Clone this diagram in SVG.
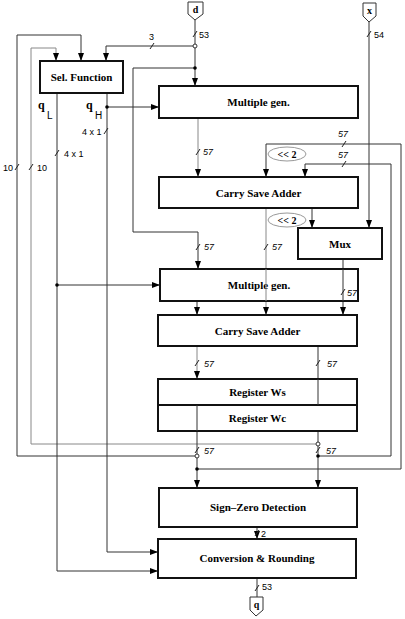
<svg xmlns="http://www.w3.org/2000/svg" width="405" height="619" viewBox="0 0 405 619">
<style>
.box{fill:#fff;stroke:#111;stroke-width:2}
.bt{font-family:"Liberation Serif",serif;font-weight:bold;font-size:11px;text-anchor:middle;fill:#000}
.c{fill:none;stroke:#333;stroke-width:1}
.g{fill:none;stroke:#888;stroke-width:1}
.tk{stroke:#222;stroke-width:1}
.lb{font-family:"Liberation Sans",sans-serif;font-size:9px;fill:#000}
.li{font-family:"Liberation Sans",sans-serif;font-size:9px;font-style:italic;fill:#000}
.q{font-family:"Liberation Serif",serif;font-weight:bold;font-size:12px;fill:#000}
.sub{font-family:"Liberation Sans",sans-serif;font-size:10px;fill:#000}
.pin{fill:#fff;stroke:#333;stroke-width:1}
.pt{font-family:"Liberation Serif",serif;font-weight:bold;font-size:10px;text-anchor:middle;fill:#000}
.el{fill:#fff;stroke:#999;stroke-width:1}
.et{font-family:"Liberation Serif",serif;font-weight:bold;font-size:10px;text-anchor:middle;fill:#000}
</style>
<defs>
<marker id="a" markerUnits="userSpaceOnUse" markerWidth="8" markerHeight="6" refX="8" refY="3" orient="auto">
<path d="M0,0 L8,3 L0,6 z" fill="#000"/>
</marker>
</defs>
<g id="connectors">
<polyline class="c" points="195,20 195,86" marker-end="url(#a)"/>
<polyline class="c" points="195,46 106,46 106,61" marker-end="url(#a)"/>
<polyline class="c" points="195,68 133,68 133,232 198,232 198,269" marker-end="url(#a)"/>
<polyline class="c" points="197,456 17,456 17,35 81,35 81,61" marker-end="url(#a)"/>
<polyline class="g" points="318,444 31,444 31,48 56,48 56,61" marker-end="url(#a)"/>
<polyline class="c" points="107,93 107,552 158,552" marker-end="url(#a)"/>
<polyline class="c" points="107,107 159,107" marker-end="url(#a)"/>
<polyline class="c" points="57,93 57,571 158,571" marker-end="url(#a)"/>
<polyline class="c" points="57,285 160,285" marker-end="url(#a)"/>
<polyline class="g" points="198,118 198,177" marker-end="url(#a)"/>
<polyline class="c" points="197,469 401,469 401,144 266,144 266,177" marker-end="url(#a)"/>
<polyline class="c" points="318,456 391,456 391,164 305,164 305,177" marker-end="url(#a)"/>
<polyline class="g" points="266,208 266,315" marker-end="url(#a)"/>
<polyline class="c" points="312,208 312,228" marker-end="url(#a)"/>
<polyline class="c" points="369,22 369,228" marker-end="url(#a)"/>
<polyline class="c" points="343,259 343,315" marker-end="url(#a)"/>
<polyline class="c" points="197,301 197,315" marker-end="url(#a)"/>
<polyline class="g" points="197,346 197,379" marker-end="url(#a)"/>
<polyline class="c" points="318,346 318,405" marker-end="url(#a)"/>
<polyline class="c" points="197,405 197,488" marker-end="url(#a)"/>
<polyline class="c" points="318,431 318,488" marker-end="url(#a)"/>
<polyline class="c" points="257,527 257,539" marker-end="url(#a)"/>
<polyline class="c" points="257,578 257,597"/>
<circle cx="195" cy="46" r="2" fill="#fff" stroke="#333"/>
<circle cx="195" cy="68" r="1.8" fill="#000"/>
<circle cx="107" cy="107" r="1.8" fill="#000"/>
<circle cx="57" cy="285" r="1.8" fill="#000"/>
<circle cx="197" cy="456" r="2" fill="#fff" stroke="#333"/>
<circle cx="318" cy="444" r="2" fill="#fff" stroke="#333"/>
<circle cx="318" cy="456" r="1.8" fill="#000"/>
<circle cx="197" cy="469" r="1.8" fill="#000"/>
<g class="tk">
<line x1="193" y1="37" x2="197" y2="31"/>
<line x1="150" y1="49" x2="154" y2="43"/>
<line x1="15" y1="170" x2="19" y2="164"/>
<line x1="29" y1="170" x2="33" y2="164"/>
<line x1="104" y1="134" x2="108" y2="128"/>
<line x1="55" y1="156" x2="59" y2="150"/>
<line x1="196" y1="155" x2="200" y2="149"/>
<line x1="196" y1="250" x2="200" y2="244"/>
<line x1="264" y1="250" x2="268" y2="244"/>
<line x1="342" y1="147" x2="346" y2="141"/>
<line x1="342" y1="167" x2="346" y2="161"/>
<line x1="367" y1="37" x2="371" y2="31"/>
<line x1="195" y1="366" x2="199" y2="360"/>
<line x1="316" y1="366" x2="320" y2="360"/>
<line x1="195" y1="453" x2="199" y2="447"/>
<line x1="316" y1="453" x2="320" y2="447"/>
<line x1="255" y1="536" x2="259" y2="530"/>
<line x1="255" y1="591" x2="259" y2="585"/>
</g>
<text class="lb" x="199" y="38">53</text>
<text class="lb" x="149" y="40">3</text>
<text class="lb" x="374" y="38">54</text>
<text class="lb" x="3" y="171">10</text>
<text class="lb" x="37" y="171">10</text>
<text class="lb" x="82" y="135">4 x 1</text>
<text class="lb" x="64" y="157">4 x 1</text>
<text class="li" x="203" y="155">57</text>
<text class="li" x="338" y="137">57</text>
<text class="li" x="338" y="158">57</text>
<text class="li" x="204" y="250">57</text>
<text class="li" x="272" y="250">57</text>
<text class="li" x="204" y="367">57</text>
<text class="li" x="327" y="367">57</text>
<text class="li" x="204" y="454">57</text>
<text class="li" x="326" y="454">57</text>
<text class="lb" x="261" y="537">2</text>
<text class="lb" x="262" y="590">53</text>
<text class="q" x="38" y="109">q</text>
<text class="sub" x="47" y="119">L</text>
<text class="q" x="86" y="109">q</text>
<text class="sub" x="95" y="119">H</text>
<ellipse class="el" cx="287" cy="154" rx="19" ry="7"/>
<text class="et" x="287" y="158">&lt;&lt; 2</text>
<ellipse class="el" cx="287" cy="220" rx="19" ry="7"/>
<text class="et" x="287" y="224">&lt;&lt; 2</text>
</g>
<g id="pin-d"><polygon class="pin" points="188,2 203,2 203,14 195,20 188,14"/><text class="pt" x="195.5" y="13">d</text></g>
<g id="pin-x"><polygon class="pin" points="363,3 376,3 376,16 369,22 363,16"/><text class="pt" x="369.5" y="14">x</text></g>
<g id="pin-q"><polygon class="pin" points="250,597 263,597 263,610 256,616 250,610"/><text class="pt" x="256.5" y="608">q</text></g>
<g id="sel"><rect class="box" x="40" y="61" width="83" height="32"/><text class="bt" x="81.5" y="81">Sel. Function</text></g>
<g id="mg1"><rect class="box" x="159" y="86" width="199" height="32"/><text class="bt" x="258.5" y="106">Multiple gen.</text></g>
<g id="csa1"><rect class="box" x="159" y="177" width="199" height="31"/><text class="bt" x="258.5" y="197">Carry Save Adder</text></g>
<g id="mux"><rect class="box" x="298" y="228" width="84" height="31"/><text class="bt" x="340" y="248">Mux</text></g>
<g id="mg2"><rect class="box" x="160" y="269" width="198" height="32"/><text class="bt" x="259" y="289">Multiple gen.</text></g>
<g id="csa2"><rect class="box" x="158" y="315" width="199" height="31"/><text class="bt" x="257.5" y="335">Carry Save Adder</text></g>
<g id="regws"><rect class="box" x="158" y="379" width="199" height="26"/><text class="bt" x="257.5" y="396">Register Ws</text></g>
<g id="regwc"><rect class="box" x="158" y="405" width="199" height="26"/><text class="bt" x="257.5" y="422">Register Wc</text></g>
<g id="szd"><rect class="box" x="159" y="488" width="198" height="39"/><text class="bt" x="258" y="511">Sign–Zero Detection</text></g>
<g id="conv"><rect class="box" x="158" y="539" width="198" height="39"/><text class="bt" x="257" y="562">Conversion &amp; Rounding</text></g>
<g id="overlay">
<line class="g" x1="266" y1="269" x2="266" y2="301"/>
<line class="c" x1="343" y1="269" x2="343" y2="301"/>
<line class="c" x1="318" y1="379" x2="318" y2="405"/>
<line class="c" x1="197" y1="405" x2="197" y2="431"/>
<line class="tk" x1="341" y1="295" x2="345" y2="289"/>
<text class="li" x="347" y="296">57</text>
</g>
</svg>
